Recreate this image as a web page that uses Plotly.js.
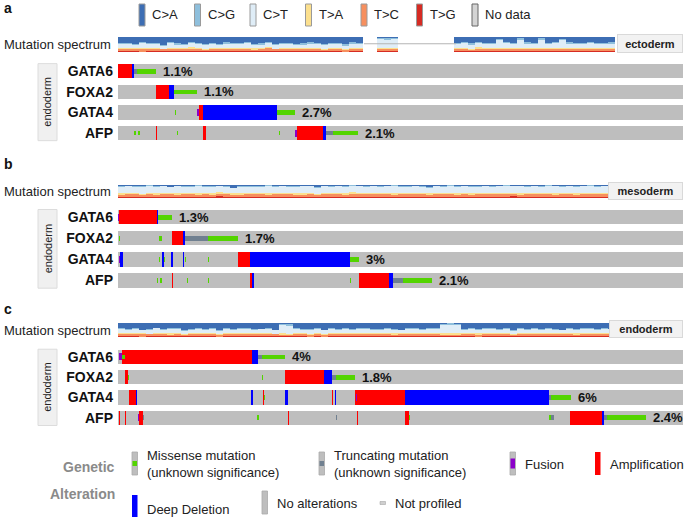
<!DOCTYPE html>
<html><head><meta charset="utf-8">
<script src="https://cdn.plot.ly/plotly-3.0.1.min.js"></script>
<style>html,body{margin:0;padding:0;background:#fff}#chart{width:685px;height:517px}</style>
</head><body><div id="chart"></div>
<script>
// ================= DATA =================
const genes = ['GATA6', 'FOXA2', 'GATA4', 'AFP'];
const panelLetters = ['a', 'b', 'c'];
const panelGroups = ['ectoderm', 'mesoderm', 'endoderm'];
const trackGroup = 'endoderm';
const pctA = ['1.1%', '1.1%', '2.7%', '2.1%'];
const pctB = ['1.3%', '1.7%', '3%', '2.1%'];
const pctC = ['4%', '1.8%', '6%', '2.4%'];
const nSamples = 565;               // length of every track, in sample positions

// alteration segments: [gene, firstSample, lastSample]
const ampA = [['GATA6',0,13.7],['FOXA2',38,50.7],['GATA4',81,85.3],['AFP',38,39],['AFP',80.7,81.3],['AFP',85.3,87.7],['AFP',178.7,205.3]];
const delA = [['GATA6',13.7,16.3],['FOXA2',50.7,56],['GATA4',85.3,159.3],['AFP',205.3,208]];
const fusA = [['GATA4',79.3,81],['AFP',177,178.7]];
const trnA = [['GATA6',16.3,19.3],['AFP',208,214.7]];
const misA = [['GATA6',19.3,38],['FOXA2',56,79.3],['GATA4',57,58.3],['GATA4',159.3,177.3],['AFP',16.3,18],['AFP',20.3,22],['AFP',58.7,60.3],['AFP',160.7,162.3],['AFP',214.7,240.3]];

const ampB = [['GATA6',1,38.7],['FOXA2',53.7,64.7],['GATA4',119.7,132],['AFP',54.3,55.3],['AFP',132,134.3],['AFP',240.7,271.3]];
const delB = [['GATA6',38.7,40],['FOXA2',64.7,66.7],['GATA4',1.7,4.7],['GATA4',44.3,45.7],['GATA4',53.3,54.7],['GATA4',64.7,66],['GATA4',132,232],['AFP',134.3,135.7],['AFP',271.3,275.3]];
const fusB = [['GATA6',0,1],['GATA4',0.7,1.7]];
const trnB = [['FOXA2',66.7,89.7],['AFP',275.3,284.7]];
const misB = [['GATA6',40,53.7],['FOXA2',0.7,1.7],['FOXA2',41,43.7],['FOXA2',89.7,119.7],['GATA4',41.3,42.3],['GATA4',46,47],['GATA4',67.3,68.3],['GATA4',89.7,91],['GATA4',232,241.3],['AFP',38.7,39.7],['AFP',42,43.7],['AFP',68.7,70.3],['AFP',90,91.3],['AFP',232,233.3],['AFP',284.7,313.7]];

const ampC = [['GATA6',4.3,133.7],['FOXA2',7,9.7],['FOXA2',167,206],['GATA4',11.3,17.7],['GATA4',145,145.7],['GATA4',213.7,214.7],['GATA4',237,287],['AFP',1.3,2.3],['AFP',6.7,7.7],['AFP',20.7,24.7],['AFP',170,171.3],['AFP',238.7,240],['AFP',287,291.3],['AFP',452,483.7]];
const delC = [['GATA6',133.7,139.7],['FOXA2',206,213.7],['GATA4',17.7,19.3],['GATA4',133,135.3],['GATA4',167,170.3],['GATA4',217,218.3],['GATA4',287,431],['AFP',483.7,486.3]];
const fusC = [['GATA6',1,4.3],['GATA4',237.5,238.7],['AFP',19.7,20.7]];
const trnC = [['GATA6',139.7,143.7],['FOXA2',213.7,218],['GATA4',431,433],['AFP',24.7,26],['AFP',218,219],['AFP',433,436.3],['AFP',486.3,489.3]];
const misC = [['GATA6',4.3,7],['GATA6',143.7,167],['FOXA2',9.7,11],['FOXA2',143.7,144.7],['FOXA2',218,237],['GATA4',145.7,147],['GATA4',433,452.7],['AFP',139.3,140.7],['AFP',291.3,292.3],['AFP',431.3,433],['AFP',489.3,528]];

// mutation spectrum (per column of samples), categories top->bottom
const specTypes = ['C>A', 'C>G', 'C>T', 'T>A', 'T>C', 'T>G'];
const aCA = [44,40,52,37,47,42,57,39,45,50,34,42,48,41,53,38,46,43,39,51,45,36,49,42,40,54,47,38,43,50,41,46,52,39,42,0,0,5,8,4,0,0,0,0,0,0,0,0,42,38,47,34,40,45,10,39,43,8,37,41,6,42,36,12,39,44,40,37,42,46,38];
const aCG = [8,10,6,9,7,12,5,8,10,6,9,7,11,8,6,10,7,9,8,6,10,7,9,8,11,6,8,10,7,9,8,6,10,9,7,0,0,10,12,9,0,0,0,0,0,0,0,0,9,8,10,7,9,8,12,8,7,10,9,8,11,7,9,10,8,7,9,8,10,7,9];
const aCT = [28,30,24,32,27,29,22,31,28,25,33,30,26,29,24,32,28,27,30,25,28,32,26,29,31,23,27,30,29,25,28,30,24,29,31,0,0,55,50,58,0,0,0,0,0,0,0,0,30,32,27,34,31,29,50,30,28,52,32,30,54,29,33,46,31,28,30,32,29,27,31];
const aTA = [7,8,6,9,7,6,5,8,7,9,8,7,6,8,7,9,6,8,7,9,7,8,6,8,7,6,8,7,9,7,8,6,7,8,7,0,0,8,9,7,0,0,0,0,0,0,0,0,8,9,7,10,8,7,7,8,9,8,7,8,7,9,8,7,8,7,8,9,7,8,8];
const aTC = [16,15,17,20,14,15,15,17,14,13,18,16,13,17,14,15,17,16,18,13,15,19,14,16,15,16,15,17,16,13,18,16,13,17,15,0,0,16,14,17,0,0,0,0,0,0,0,0,15,17,14,19,16,15,14,18,16,13,17,16,14,17,18,16,15,17,16,14,15,16,17];
const aTG = [6,6,4,2,7,5,5,6,5,6,7,7,5,6,5,5,5,6,7,5,4,7,5,6,5,4,4,7,5,5,6,5,3,7,7,0,0,6,7,5,0,0,0,0,0,0,0,0,5,5,4,5,5,5,5,6,6,6,4,6,5,5,5,6,6,6,6,9,6,6,5];
const aNoData = [[246, 338]];

const bCA = [6,4,8,5,3,7,5,12,4,6,5,3,8,6,4,5,20,6,4,7,5,3,6,4,9,5,6,4,18,5,7,4,6,3,5,8,4,6,5,3,7,4,6,5,15,4,6,3,7,5,4,6,5,8,4,3,6,5,7,4,6,3,5,10,4,6,5,3,7,4,5];
const bCG = [5,6,4,7,5,6,5,4,6,5,7,5,4,6,5,6,4,5,7,5,6,4,5,6,5,7,4,5,6,5,4,6,5,7,5,4,6,5,5,6,5,7,4,6,5,6,5,4,6,5,7,5,4,6,5,6,4,5,7,5,6,4,5,6,5,7,4,5,6,5,6];
const bCT = [50,47,44,52,49,46,48,42,51,45,47,52,44,48,50,46,37,49,47,43,48,51,45,49,42,47,50,46,38,49,45,48,50,44,47,43,49,46,48,51,44,47,49,46,40,48,45,50,47,44,49,46,48,42,50,47,45,49,44,48,46,50,47,39,48,45,49,47,44,50,47];
const bTA = [10,9,11,8,10,12,9,10,8,11,9,10,12,9,10,8,11,9,10,12,9,11,10,8,10,9,11,10,9,8,11,10,9,12,10,9,8,11,10,9,12,10,9,11,10,8,10,9,11,10,9,12,10,9,11,10,8,10,9,11,10,9,12,10,9,11,10,8,10,9,11];
const bTC = [17,20,19,16,18,15,19,18,17,20,18,16,19,17,20,18,16,17,19,18,17,16,20,18,19,17,16,20,18,17,19,18,16,17,20,18,19,17,16,18,17,20,19,18,16,19,18,17,16,20,18,17,19,20,16,18,19,17,20,18,17,19,16,18,20,17,18,19,20,17,18];
const bTG = [8,10,10,8,11,10,10,10,10,9,10,10,9,10,17,11,8,10,9,11,11,11,10,11,11,9,10,11,7,12,10,10,10,13,9,12,10,11,12,9,12,8,11,10,10,11,12,11,9,8,8,11,10,9,13,11,14,7,11,10,12,11,11,10,10,10,10,12,9,13,9];

const cCA = [42,47,40,52,45,37,50,43,39,57,44,41,48,42,54,38,46,43,40,49,45,42,51,8,10,41,47,44,39,53,42,46,40,48,43,38,50,45,41,47,52,42,39,46,43,40,6,5,8,45,41,49,43,38,47,42,54,40,45,42,48,39,44,51,41,46,43,40,48,42,45];
const cCG = [6,5,7,6,8,5,6,7,5,6,7,6,5,8,6,7,5,6,7,6,5,7,6,10,12,6,5,7,6,5,7,6,8,5,6,7,5,6,7,6,5,7,6,5,7,6,12,10,11,6,7,5,6,7,5,6,5,7,6,8,5,6,7,5,6,7,5,6,7,6,5];
const cCT = [29,26,32,22,28,34,24,30,33,20,27,31,25,29,22,34,28,30,32,24,29,31,23,55,52,30,27,28,32,24,30,27,31,26,29,33,25,28,30,27,23,29,32,28,27,31,55,58,54,28,30,26,29,34,27,30,24,31,28,29,26,32,28,24,30,27,29,32,25,30,28];
const cTA = [8,7,9,8,6,8,7,9,8,6,7,8,9,7,8,6,8,7,9,8,7,8,6,9,8,7,8,9,7,8,6,8,7,9,8,7,6,8,7,9,8,7,8,9,7,8,9,10,8,7,8,9,7,6,8,7,6,8,7,9,8,7,6,8,7,9,8,7,6,8,7];
const cTC = [16,15,14,17,15,16,14,13,15,13,15,14,15,14,13,14,15,16,13,15,14,13,15,12,12,16,14,13,16,13,15,14,13,14,15,16,15,13,14,13,13,15,16,14,15,15,11,11,12,14,15,14,15,16,14,15,13,15,14,13,14,16,15,14,15,13,15,14,15,13,15];
const cTG = [8,9,7,4,7,9,8,7,9,7,9,9,7,9,6,10,7,7,8,7,9,8,7,6,6,9,8,5,9,6,9,8,10,7,8,8,8,9,10,7,8,9,8,7,10,9,7,6,7,9,8,6,9,8,8,9,7,8,9,8,8,8,9,7,10,7,9,8,8,10,9];

const altLabels = ['Missense mutation<br>(unknown significance)', 'Truncating mutation<br>(unknown significance)', 'Fusion', 'Amplification', 'Deep Deletion', 'No alterations', 'Not profiled'];
const altKeys = ['mis', 'trn', 'fus', 'amp', 'del', 'none', 'np'];

// ================= STYLE / LAYOUT =================
const W = 685, H = 517;
const fx = p => p / W, fy = p => 1 - p / H;
const FONT = 'Arial, "Liberation Sans", Helvetica, sans-serif';
const specColors = ['#3D6EB4', '#8EBFDC', '#DFEDF7', '#FCE08E', '#F78F5E', '#D62B23'];
const altColors = {amp: '#FF0000', del: '#0000FF', fus: '#8B00C9', trn: '#708090', mis: '#53D400', none: '#BEBEBE'};
const TRACK_L = 118, TRACK_R = 683;
const TH = 14.3, MUT = 4.7, FUS = 7;
const colW = 7;

const cfg = [
  {ty: 'y', sy: 'y4', top: 61.0, bot: 143.3, sTop: 37, sBot: 52, letterY: 8, box: [617, 683, 34, 53], pct: pctA, segs: {amp: ampA, del: delA, fus: fusA, trn: trnA, mis: misA}, spec: [aCA, aCG, aCT, aTA, aTC, aTG], noData: aNoData},
  {ty: 'y2', sy: 'y5', top: 206.6, bot: 291.1, sTop: 185, sBot: 198.3, letterY: 164, box: [608, 683, 181.7, 200], pct: pctB, segs: {amp: ampB, del: delB, fus: fusB, trn: trnB, mis: misB}, spec: [bCA, bCG, bCT, bTA, bTC, bTG], noData: []},
  {ty: 'y3', sy: 'y6', top: 346.7, bot: 428.0, sTop: 322.7, sBot: 337.3, letterY: 309, box: [609, 683, 320, 338], pct: pctC, segs: {amp: ampC, del: delC, fus: fusC, trn: trnC, mis: misC}, spec: [cCA, cCG, cCT, cTA, cTC, cTG], noData: []}
];

const data = [], shapes = [], annotations = [];
const layout = {
  width: W, height: H, margin: {l: 0, r: 0, t: 0, b: 0},
  paper_bgcolor: '#fff', plot_bgcolor: 'rgba(0,0,0,0)',
  showlegend: false, hovermode: false, barmode: 'overlay', bargap: 0,
  font: {family: FONT, color: '#222'},
  xaxis: {domain: [fx(TRACK_L), fx(TRACK_R)], range: [0, nSamples], visible: false, fixedrange: true}
};

cfg.forEach((c, pi) => {
  const pitch = (c.bot - c.top) / genes.length;
  const tkey = c.ty === 'y' ? 'yaxis' : 'yaxis' + c.ty.slice(1);
  const skey = 'yaxis' + c.sy.slice(1);
  layout[tkey] = {
    domain: [fy(c.bot), fy(c.top)], type: 'category', categoryarray: genes, categoryorder: 'array',
    range: [genes.length - 0.5, -0.5], anchor: 'x', showgrid: false, zeroline: false, showline: false,
    ticks: '', ticklen: 0, ticklabelstandoff: 4, fixedrange: true,
    tickfont: {family: FONT, size: 14, color: '#111', weight: 'bold'}
  };
  layout[skey] = {domain: [fy(c.sBot), fy(c.sTop)], range: [0, 1], anchor: 'x', visible: false, fixedrange: true};

  // grey background of each track (no alterations)
  data.push({type: 'bar', orientation: 'h', xaxis: 'x', yaxis: c.ty, y: genes, x: genes.map(() => nSamples), base: genes.map(() => 0),
    width: TH / pitch, marker: {color: altColors.none, line: {width: 0}}, hoverinfo: 'skip'});
  [['amp', TH], ['del', TH], ['fus', FUS], ['trn', MUT], ['mis', MUT]].forEach(([k, h]) => {
    const s = c.segs[k];
    if (!s.length) return;
    data.push({type: 'bar', orientation: 'h', xaxis: 'x', yaxis: c.ty, y: s.map(d => d[0]), base: s.map(d => d[1]), x: s.map(d => d[2] - d[1]),
      width: h / pitch, marker: {color: altColors[k], line: {width: 0}}, hoverinfo: 'skip'});
  });

  // percent labels after the last altered sample
  genes.forEach((g, gi) => {
    let end = 0;
    Object.values(c.segs).forEach(arr => arr.forEach(d => { if (d[0] === g && d[2] > end) end = d[2]; }));
    annotations.push({xref: 'x', yref: c.ty, x: end, y: g, text: c.pct[gi], showarrow: false, xanchor: 'left', xshift: 5,
      font: {family: FONT, size: 13, color: '#111', weight: 'bold'}});
  });

  // mutation spectrum: stacked, normalised per column
  const n = c.spec[0].length;
  const totals = Array.from({length: n}, (_, i) => c.spec.reduce((s, arr) => s + arr[i], 0));
  let cum = new Array(n).fill(0);
  for (let k = c.spec.length - 1; k >= 0; k--) {
    const fr = c.spec[k].map((v, i) => totals[i] ? v / totals[i] : 0);
    data.push({type: 'bar', xaxis: 'x', yaxis: c.sy, x: fr.map((_, i) => (i + 0.5) * colW), y: fr, base: cum.slice(), width: colW,
      marker: {color: specColors[k], line: {width: 0}}, hoverinfo: 'skip'});
    cum = cum.map((b, i) => b + fr[i]);
  }
  c.noData.forEach(seg => data.push({type: 'scatter', mode: 'lines', xaxis: 'x', yaxis: c.sy, x: seg, y: [0.55, 0.55],
    line: {color: '#b5b5b5', width: 1}, hoverinfo: 'skip'}));

  const sMid = (c.sTop + c.sBot) / 2;
  annotations.push({xref: 'paper', yref: 'paper', x: fx(2), y: fy(sMid), text: 'Mutation spectrum', showarrow: false,
    xanchor: 'left', yanchor: 'middle', font: {family: FONT, size: 13, color: '#222'}});
  annotations.push({xref: 'paper', yref: 'paper', x: fx(2), y: fy(c.letterY), text: panelLetters[pi], showarrow: false,
    xanchor: 'left', yanchor: 'middle', font: {family: FONT, size: 14, color: '#111', weight: 'bold'}});
  // group label box on the spectrum (right)
  const b = c.box;
  annotations.push({xref: 'paper', yref: 'paper', x: fx((b[0] + b[1]) / 2), y: fy((b[2] + b[3]) / 2), text: panelGroups[pi], showarrow: false,
    xanchor: 'center', yanchor: 'middle', width: b[1] - b[0] - 2, height: b[3] - b[2] - 2, borderpad: 0,
    bgcolor: '#f2f2f2', bordercolor: '#d9d9d9', borderwidth: 1, font: {family: FONT, size: 11, color: '#222', weight: 'bold'}});
  // left vertical group box
  const tTop = c.top + pitch / 2 - TH / 2 - 0.5, tBot = c.bot - pitch / 2 + TH / 2 + 0.5;
  shapes.push({type: 'rect', xref: 'paper', yref: 'paper', x0: fx(38), x1: fx(57), y0: fy(tBot), y1: fy(tTop),
    fillcolor: '#f0f0f0', line: {color: '#dcdcdc', width: 1}, layer: 'below'});
  annotations.push({xref: 'paper', yref: 'paper', x: fx(47.5), y: fy((tTop + tBot) / 2), text: trackGroup, textangle: -90,
    showarrow: false, xanchor: 'center', yanchor: 'middle', font: {family: FONT, size: 11, color: '#222'}});
});

// ---- top legend: mutation spectrum categories ----
const specLegend = specTypes.concat(['No data']);
const specLegendColors = specColors.concat(['#d4d4d4']);
specLegend.forEach((t, i) => {
  const x0 = 139 + i * 55.5;
  shapes.push({type: 'rect', xref: 'paper', yref: 'paper', x0: fx(x0), x1: fx(x0 + 6), y0: fy(26), y1: fy(4),
    fillcolor: specLegendColors[i], line: {color: i === 6 ? '#666' : '#9a9a9a', width: 1}});
  annotations.push({xref: 'paper', yref: 'paper', x: fx(x0 + 11), y: fy(15), text: t, showarrow: false, xanchor: 'left', yanchor: 'middle',
    font: {family: FONT, size: 13, color: '#222'}});
});

// ---- bottom legend: genetic alteration ----
annotations.push({xref: 'paper', yref: 'paper', x: fx(117), y: fy(467), text: 'Genetic', showarrow: false, xanchor: 'right', yanchor: 'middle',
  font: {family: FONT, size: 14, color: '#8a8a8a', weight: 'bold'}});
annotations.push({xref: 'paper', yref: 'paper', x: fx(117), y: fy(494), text: 'Alteration', showarrow: false, xanchor: 'right', yanchor: 'middle',
  font: {family: FONT, size: 14, color: '#8a8a8a', weight: 'bold'}});
const legPos = [[132, 452, 475, 464], [319, 452, 475, 464], [510, 452, 475, 464], [595, 452, 475, 464],
                [132, 495, 517, 509], [262, 491, 514, 503], [380, 501.5, 504.5, 503]];
altKeys.forEach((k, i) => {
  const [x0, yt, yb, ty] = legPos[i];
  const w = 5.5;
  if (k === 'np') {
    shapes.push({type: 'rect', xref: 'paper', yref: 'paper', x0: fx(x0), x1: fx(x0 + w), y0: fy(yb), y1: fy(yt),
      fillcolor: '#cfcfcf', line: {color: '#9a9a9a', width: 0.5}});
  } else if (k === 'amp' || k === 'del' || k === 'none') {
    shapes.push({type: 'rect', xref: 'paper', yref: 'paper', x0: fx(x0), x1: fx(x0 + w), y0: fy(yb), y1: fy(yt),
      fillcolor: altColors[k], line: {color: '#aaa', width: k === 'none' ? 0.8 : 0}});
  } else {
    shapes.push({type: 'rect', xref: 'paper', yref: 'paper', x0: fx(x0), x1: fx(x0 + w), y0: fy(yb), y1: fy(yt),
      fillcolor: altColors.none, line: {color: '#aaa', width: 0.8}});
    const mid = (yt + yb) / 2, hh = (k === 'fus' ? 10 : 5) / 2;
    shapes.push({type: 'rect', xref: 'paper', yref: 'paper', x0: fx(x0 + 0.5), x1: fx(x0 + w - 0.5), y0: fy(mid + hh), y1: fy(mid - hh),
      fillcolor: altColors[k], line: {width: 0}});
  }
  annotations.push({xref: 'paper', yref: 'paper', x: fx(x0 + 13), y: fy(ty), text: altLabels[i], showarrow: false, xanchor: 'left', yanchor: 'middle',
    align: 'left', font: {family: FONT, size: 13, color: '#222'}});
});

layout.shapes = shapes;
layout.annotations = annotations;
Plotly.newPlot('chart', data, layout, {staticPlot: true, displayModeBar: false});
</script></body></html>
